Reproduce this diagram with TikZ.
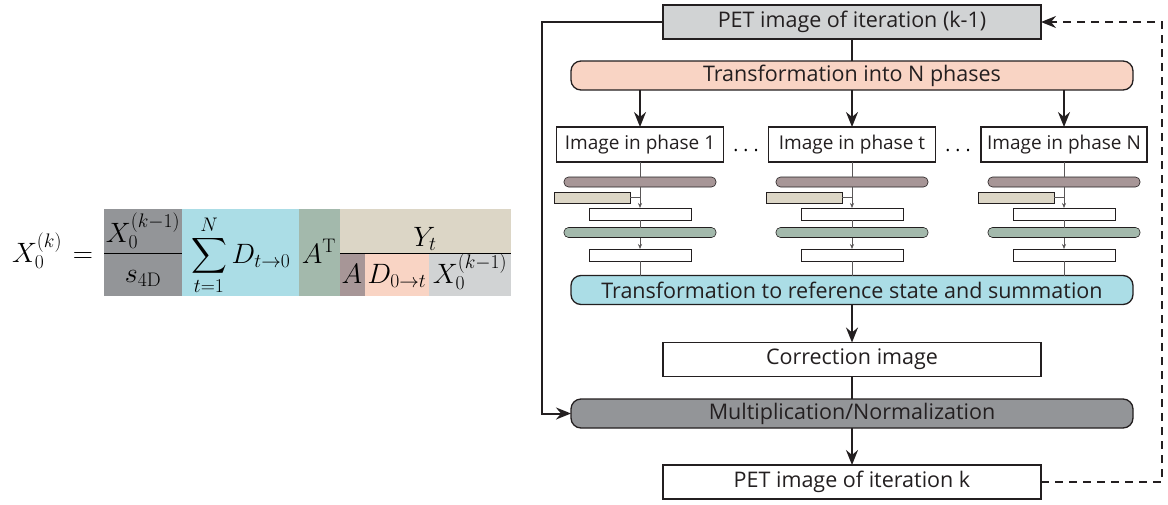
\documentclass[tikz,border=0pt]{standalone}
\usepackage{fix-cm}
\usepackage{amsmath}
\usepackage{fontspec}
\usepackage{xcolor}
\usetikzlibrary{arrows.meta,positioning}
\newfontfamily\flowfont{Open Sans}

\definecolor{petgray}{HTML}{D1D3D4}
\definecolor{phasepink}{HTML}{F9D4C4}
\definecolor{sumblue}{HTML}{ABDDE6}
\definecolor{normgray}{HTML}{939598}
\definecolor{projpurple}{HTML}{A79697}
\definecolor{databeige}{HTML}{DCD6C6}
\definecolor{backgreen}{HTML}{A3B9AC}
\definecolor{linedark}{HTML}{231F20}

\begin{document}
\begin{tikzpicture}[x=1pt,y=-1pt,
    every node/.style={inner sep=0pt,outer sep=0pt},
    eqtext/.style={font=\fontsize{28}{32}\selectfont,anchor=base},
    flowbox/.style={draw=linedark,line width=1.3pt,fill=white,minimum width=378pt,minimum height=34pt,
      font=\flowfont\fontsize{21.5}{24}\selectfont,text=linedark},
    phasebox/.style={flowbox,minimum width=167pt,minimum height=35pt,font=\flowfont\fontsize{19}{22}\selectfont},
    wideround/.style={flowbox,rounded corners=10pt,minimum width=562pt,minimum height=29pt},
    projbar/.style={draw=linedark,line width=0.6pt,fill=projpurple,rounded corners=4.5pt,minimum width=152pt,minimum height=10pt},
    backbar/.style={projbar,fill=backgreen},
    databar/.style={draw=linedark,line width=0.6pt,fill=databeige,minimum width=76pt,minimum height=11pt},
    imgbar/.style={draw=linedark,line width=0.6pt,fill=white,minimum width=102pt,minimum height=12pt},
    thinline/.style={draw=linedark!75,line width=0.6pt},
    thinarrow/.style={thinline,-{Stealth[length=5pt,width=4pt]}},
    mainline/.style={draw=linedark,line width=2pt},
    mainarrow/.style={mainline,-{Stealth[length=15pt,width=12pt,inset=5pt]}}
  ]
  \useasboundingbox (0,0) rectangle (1168,504);

  % coloured panels behind the update formula
  \fill[normgray] (104,209) rectangle (182,296);
  \fill[sumblue] (182,209) rectangle (299,296);
  \fill[backgreen] (299,209) rectangle (340,296);
  \fill[databeige] (340,209) rectangle (511,253);
  \fill[projpurple] (340,253) rectangle (365,296);
  \fill[phasepink] (365,253) rectangle (429,296);
  \fill[petgray] (429,253) rectangle (511,296);
  \draw[line width=0.9pt] (104,253) -- (182,253);
  \draw[line width=0.9pt] (340,253) -- (511,253);

  \node[eqtext] (xk) at (37,262) {$X_0^{(k)}$};
  \node[eqtext] (eqsign) at (83,262) {$=$};
  \node[eqtext] (xnum) at (143,242) {$X_0^{(k-1)}$};
  \node[eqtext] (sden) at (143,282) {$s_{\mathrm{4D}}$};
  \node[eqtext,anchor=base west] (sumd) at (191,263) {$\displaystyle\sum_{t=1}^{N} D_{t\rightarrow 0}$};
  \node[eqtext] (at) at (319,263) {$A^{\mathrm{T}}$};
  \node[eqtext] (yt) at (425,246) {$Y_t$};
  \node[eqtext] (aproj) at (352,283) {$A$};
  \node[eqtext] (dfwd) at (397,283) {$D_{0\rightarrow t}$};
  \node[eqtext] (xprev) at (470,283) {$X_0^{(k-1)}$};

  % flow chart
  \node[flowbox,fill=petgray] (prev) at (852,22) {PET image of iteration (k-1)};
  \node[wideround,fill=phasepink] (split) at (852,75.5) {Transformation into N phases};
  \node[phasebox] (ph1) at (640,144.5) {Image in phase 1};
  \node[phasebox] (pht) at (852,144.5) {Image in phase t};
  \node[phasebox,minimum width=166pt] (phN) at (1064,144.5) {Image in phase N};
  \node[font=\flowfont\fontsize{19}{22}\selectfont,anchor=base] (dots1) at (746,151) {.\hspace{5pt}.\hspace{5pt}.};
  \node[font=\flowfont\fontsize{19}{22}\selectfont,anchor=base] (dots2) at (958,151) {.\hspace{5pt}.\hspace{5pt}.};
  \node[wideround,fill=sumblue] (summ) at (852,290) {Transformation to reference state and summation};
  \node[flowbox] (corr) at (852,359.5) {Correction image};
  \node[wideround,fill=normgray] (norm) at (852,413.5) {Multiplication/Normalization};
  \node[flowbox] (next) at (852,482) {PET image of iteration k};
  \coordinate (loopleft) at (542,22);
  \coordinate (loopright) at (1162,482);

  % one small pipeline per phase
  \foreach \ph/\cx [count=\i] in {ph1/640,pht/852,phN/1064} {
    \node[projbar] (proj\i) at (\cx,182) {};
    \node[databar] (data\i) at (\cx-48,197.5) {};
    \node[imgbar] (imga\i) at (\cx,214) {};
    \node[backbar] (back\i) at (\cx,232.5) {};
    \node[imgbar] (imgb\i) at (\cx,255) {};
    \draw[thinline] (\ph.south) -- (proj\i.north);
    \draw[thinarrow] (proj\i.south) -- (imga\i.north);
    \draw[thinline] (data\i.east) -- (data\i.east -| imga\i.north);
    \draw[thinline] (imga\i.south) -- (back\i.north);
    \draw[thinarrow] (back\i.south) -- (imgb\i.north);
    \draw[thinline] (imgb\i.south) -- (imgb\i.south |- summ.north);
    \draw[mainarrow] (split.south -| \ph.north) -- (\ph.north);
  }

  \draw[mainline] (prev) -- (split);
  \draw[mainarrow] (summ) -- (corr);
  \draw[mainline] (corr) -- (norm);
  \draw[mainarrow] (norm) -- (next);
  \draw[mainarrow] (prev.west) -- (loopleft) |- (norm.west);
  \draw[mainarrow,dash pattern=on 8pt off 6pt] (next.east) -- (loopright) |- (prev.east);
\end{tikzpicture}
\end{document}
